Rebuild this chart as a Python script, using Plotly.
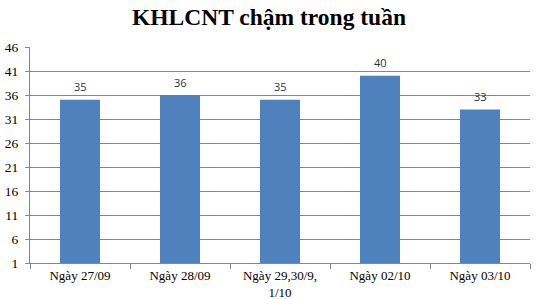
import plotly.graph_objects as go

categories = ["Ngày 27/09", "Ngày 28/09", "Ngày 29,30/9,<br>1/10", "Ngày 02/10", "Ngày 03/10"]
values = [35, 36, 35, 40, 33]
y_ticks = [1, 6, 11, 16, 21, 26, 31, 36, 41, 46]
axis_min = 1

fig = go.Figure()
fig.add_trace(go.Bar(
    x=categories, y=[v - axis_min for v in values], base=axis_min,
    marker=dict(color="#4F81BD", line=dict(width=0)),
    width=0.4,
))

for c, v in zip(categories, values):
    fig.add_annotation(x=c, y=v, text=str(v), showarrow=False, yshift=13,
                       font=dict(family="Open Sans", size=11, color="#333333"))

fig.update_layout(
    width=538, height=299,
    margin=dict(l=30, r=8, t=47, b=36),
    paper_bgcolor="white", plot_bgcolor="white",
    showlegend=False,
    title=dict(text="<b>KHLCNT chậm trong tuần</b>", x=0.5, xanchor="center",
               y=0.945, yanchor="middle",
               font=dict(family="Liberation Serif", size=23.5, color="black")),
)
fig.update_xaxes(
    automargin=False,
    showline=True, linecolor="#868686", linewidth=1,
    ticks="outside", tickson="boundaries", ticklen=5, tickcolor="#868686",
    tickfont=dict(family="Liberation Serif", size=13, color="black"),
    showgrid=False,
)
fig.update_yaxes(
    automargin=False,
    range=[1, 46], tickvals=y_ticks, ticktext=[str(t) for t in y_ticks],
    showline=True, linecolor="#868686", linewidth=1,
    ticks="outside", ticklen=4, tickcolor="#868686",
    ticklabelstandoff=4,
    showgrid=True, gridcolor="#868686", gridwidth=1,
    tickfont=dict(family="Liberation Serif", size=13.5, color="black"),
    zeroline=False,
)
fig.write_html("out.html")
